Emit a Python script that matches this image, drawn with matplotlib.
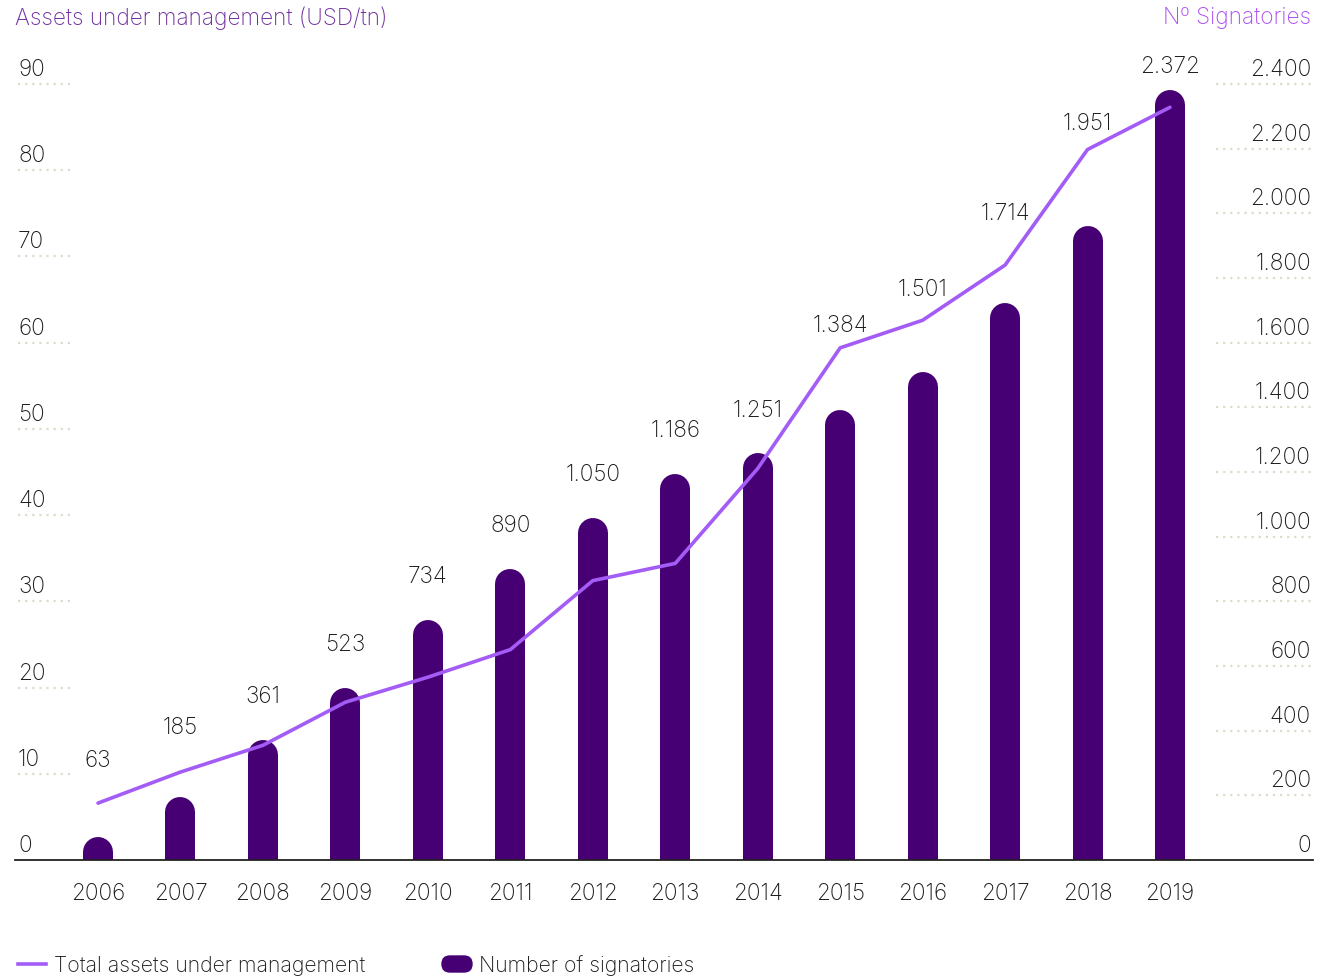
import matplotlib.pyplot as plt
import matplotlib.transforms as mtransforms
from matplotlib.lines import Line2D
from matplotlib.patches import FancyBboxPatch

# data
years = ["2006", "2007", "2008", "2009", "2010", "2011", "2012",
         "2013", "2014", "2015", "2016", "2017", "2018", "2019"]
signatories = [63, 185, 361, 523, 734, 890, 1050, 1186, 1251, 1384, 1501, 1714, 1951, 2372]
aum = [6.6, 10.2, 13.3, 18.3, 21.2, 24.4, 32.4, 34.4, 45.4, 59.4, 62.6, 69.0, 82.4, 87.3]
sig_labels = ["63", "185", "361", "523", "734", "890", "1.050",
              "1.186", "1.251", "1.384", "1.501", "1.714", "1.951", "2.372"]
left_ticks = [0, 10, 20, 30, 40, 50, 60, 70, 80, 90]
right_ticks = [0, 200, 400, 600, 800, 1000, 1200, 1400, 1600, 1800, 2000, 2200, 2400]
right_tick_labels = ["0", "200", "400", "600", "800", "1.000", "1.200", "1.400",
                     "1.600", "1.800", "2.000", "2.200", "2.400"]

# label offsets above bar/line (pixels), chosen to clear the line
label_off = [44, 46, 48, 48, 48, 48, 48, 48, 47, 24, 32, 53, 28, 28]

BAR = "#460073"
LINE = "#a35cf5"
GRID = "#dcdccb"
TXT = "#1a1a1a"

plt.rcParams['font.family'] = ['Inter', 'DejaVu Sans']
plt.rcParams['font.weight'] = 'light'
FS = 16.3

W, H = 1333, 976
fig = plt.figure(figsize=(W / 100, H / 100), dpi=100)
ax_l, ax_b, ax_t = 15, 860, 40      # pixel layout
ax = fig.add_axes([ax_l / W, 1 - ax_b / H, 1298 / W, (ax_b - ax_t) / H])
ax2 = ax.twinx()

sig_top = 2400 * (ax_b - ax_t) / (ax_b - 84)
aum_top = 90 * (ax_b - ax_t) / (ax_b - 84)
ax.set_ylim(0, sig_top)
ax2.set_ylim(0, aum_top)
xs = list(range(len(years)))
ax.set_xlim(-(98 - 15) / 82.46, 13 + (1313 - 1170) / 82.46)

# bars with rounded tops: thick lines with round caps, bottom cap clipped
bar_px = 30
r = (bar_px / 2) * sig_top / (ax_b - ax_t)
for x, v in zip(xs, signatories):
    ax.plot([x, x], [-r * 2, v - r + 3 * sig_top / (ax_b - ax_t)], color=BAR,
            lw=bar_px * 0.72, solid_capstyle="round", zorder=2)

ax2.plot(xs, aum, color=LINE, lw=2.6, zorder=3, solid_capstyle="round")

# value labels
for x, v, a, lab, off in zip(xs, signatories, aum, sig_labels, label_off):
    top = max(v, a * 2400 / 90)
    ax.annotate(lab, (x, top), xytext=(0, off - 2), textcoords="offset pixels",
                ha="center", va="center", fontsize=FS, color=TXT)

# axes styling
for s in ["top", "left", "right"]:
    ax.spines[s].set_visible(False)
    ax2.spines[s].set_visible(False)
ax2.spines["bottom"].set_visible(False)
ax.spines["bottom"].set_color("#222222")
ax.spines["bottom"].set_linewidth(1.3)
ax.set_yticks([])
ax2.set_yticks([])
ax.set_xticks(xs)
ax.set_xticklabels(years, fontsize=FS, color=TXT)
ax.tick_params(axis="x", length=0, pad=16.5)

# dotted tick guides and labels
tl = mtransforms.blended_transform_factory(ax.transAxes, ax2.transData)
tr = mtransforms.blended_transform_factory(ax.transAxes, ax.transData)
for t in left_ticks:
    if t > 0:
        ax2.plot([3 / 1298, 57 / 1298], [t, t], transform=tl, color=GRID,
                 lw=1.6, ls=(0, (1, 2.2)), clip_on=False)
    ax2.annotate(str(t), (3 / 1298, t), xycoords=tl, xytext=(0, 14),
                 textcoords="offset pixels", ha="left", va="center",
                 fontsize=FS, color=TXT)
for t, lab in zip(right_ticks, right_tick_labels):
    if t > 0:
        ax.plot([1201 / 1298, 1.0], [t, t], transform=tr, color=GRID,
                lw=1.6, ls=(0, (1, 2.2)), clip_on=False)
    ax.annotate(lab, (1296 / 1298, t), xycoords=tr, xytext=(0, 14),
                textcoords="offset pixels", ha="right", va="center",
                fontsize=FS, color=TXT)

# titles
fig.text(15 / W, 1 - 18 / H, "Assets under management (USD/tn)",
         ha="left", va="center", fontsize=FS, color="#7030a0")
fig.text(1311 / W, 1 - 18 / H, "Nº Signatories",
         ha="right", va="center", fontsize=FS, color="#ad4ff2")

# legend
LFS = 15.3
fig.add_artist(Line2D([18 / W, 46 / W], [1 - 964 / H, 1 - 964 / H],
                      transform=fig.transFigure, color=LINE, lw=2.6))
fig.text(54 / W, 1 - 966 / H, "Total assets under management",
         ha="left", va="center", fontsize=LFS, color=TXT)
fig.add_artist(FancyBboxPatch((442, H - 972), 30, 16,
                              boxstyle="round,pad=0,rounding_size=8",
                              transform=mtransforms.IdentityTransform(),
                              color=BAR))
fig.text(479 / W, 1 - 966 / H, "Number of signatories",
         ha="left", va="center", fontsize=LFS, color=TXT)

fig.savefig("out.png", dpi=100)
